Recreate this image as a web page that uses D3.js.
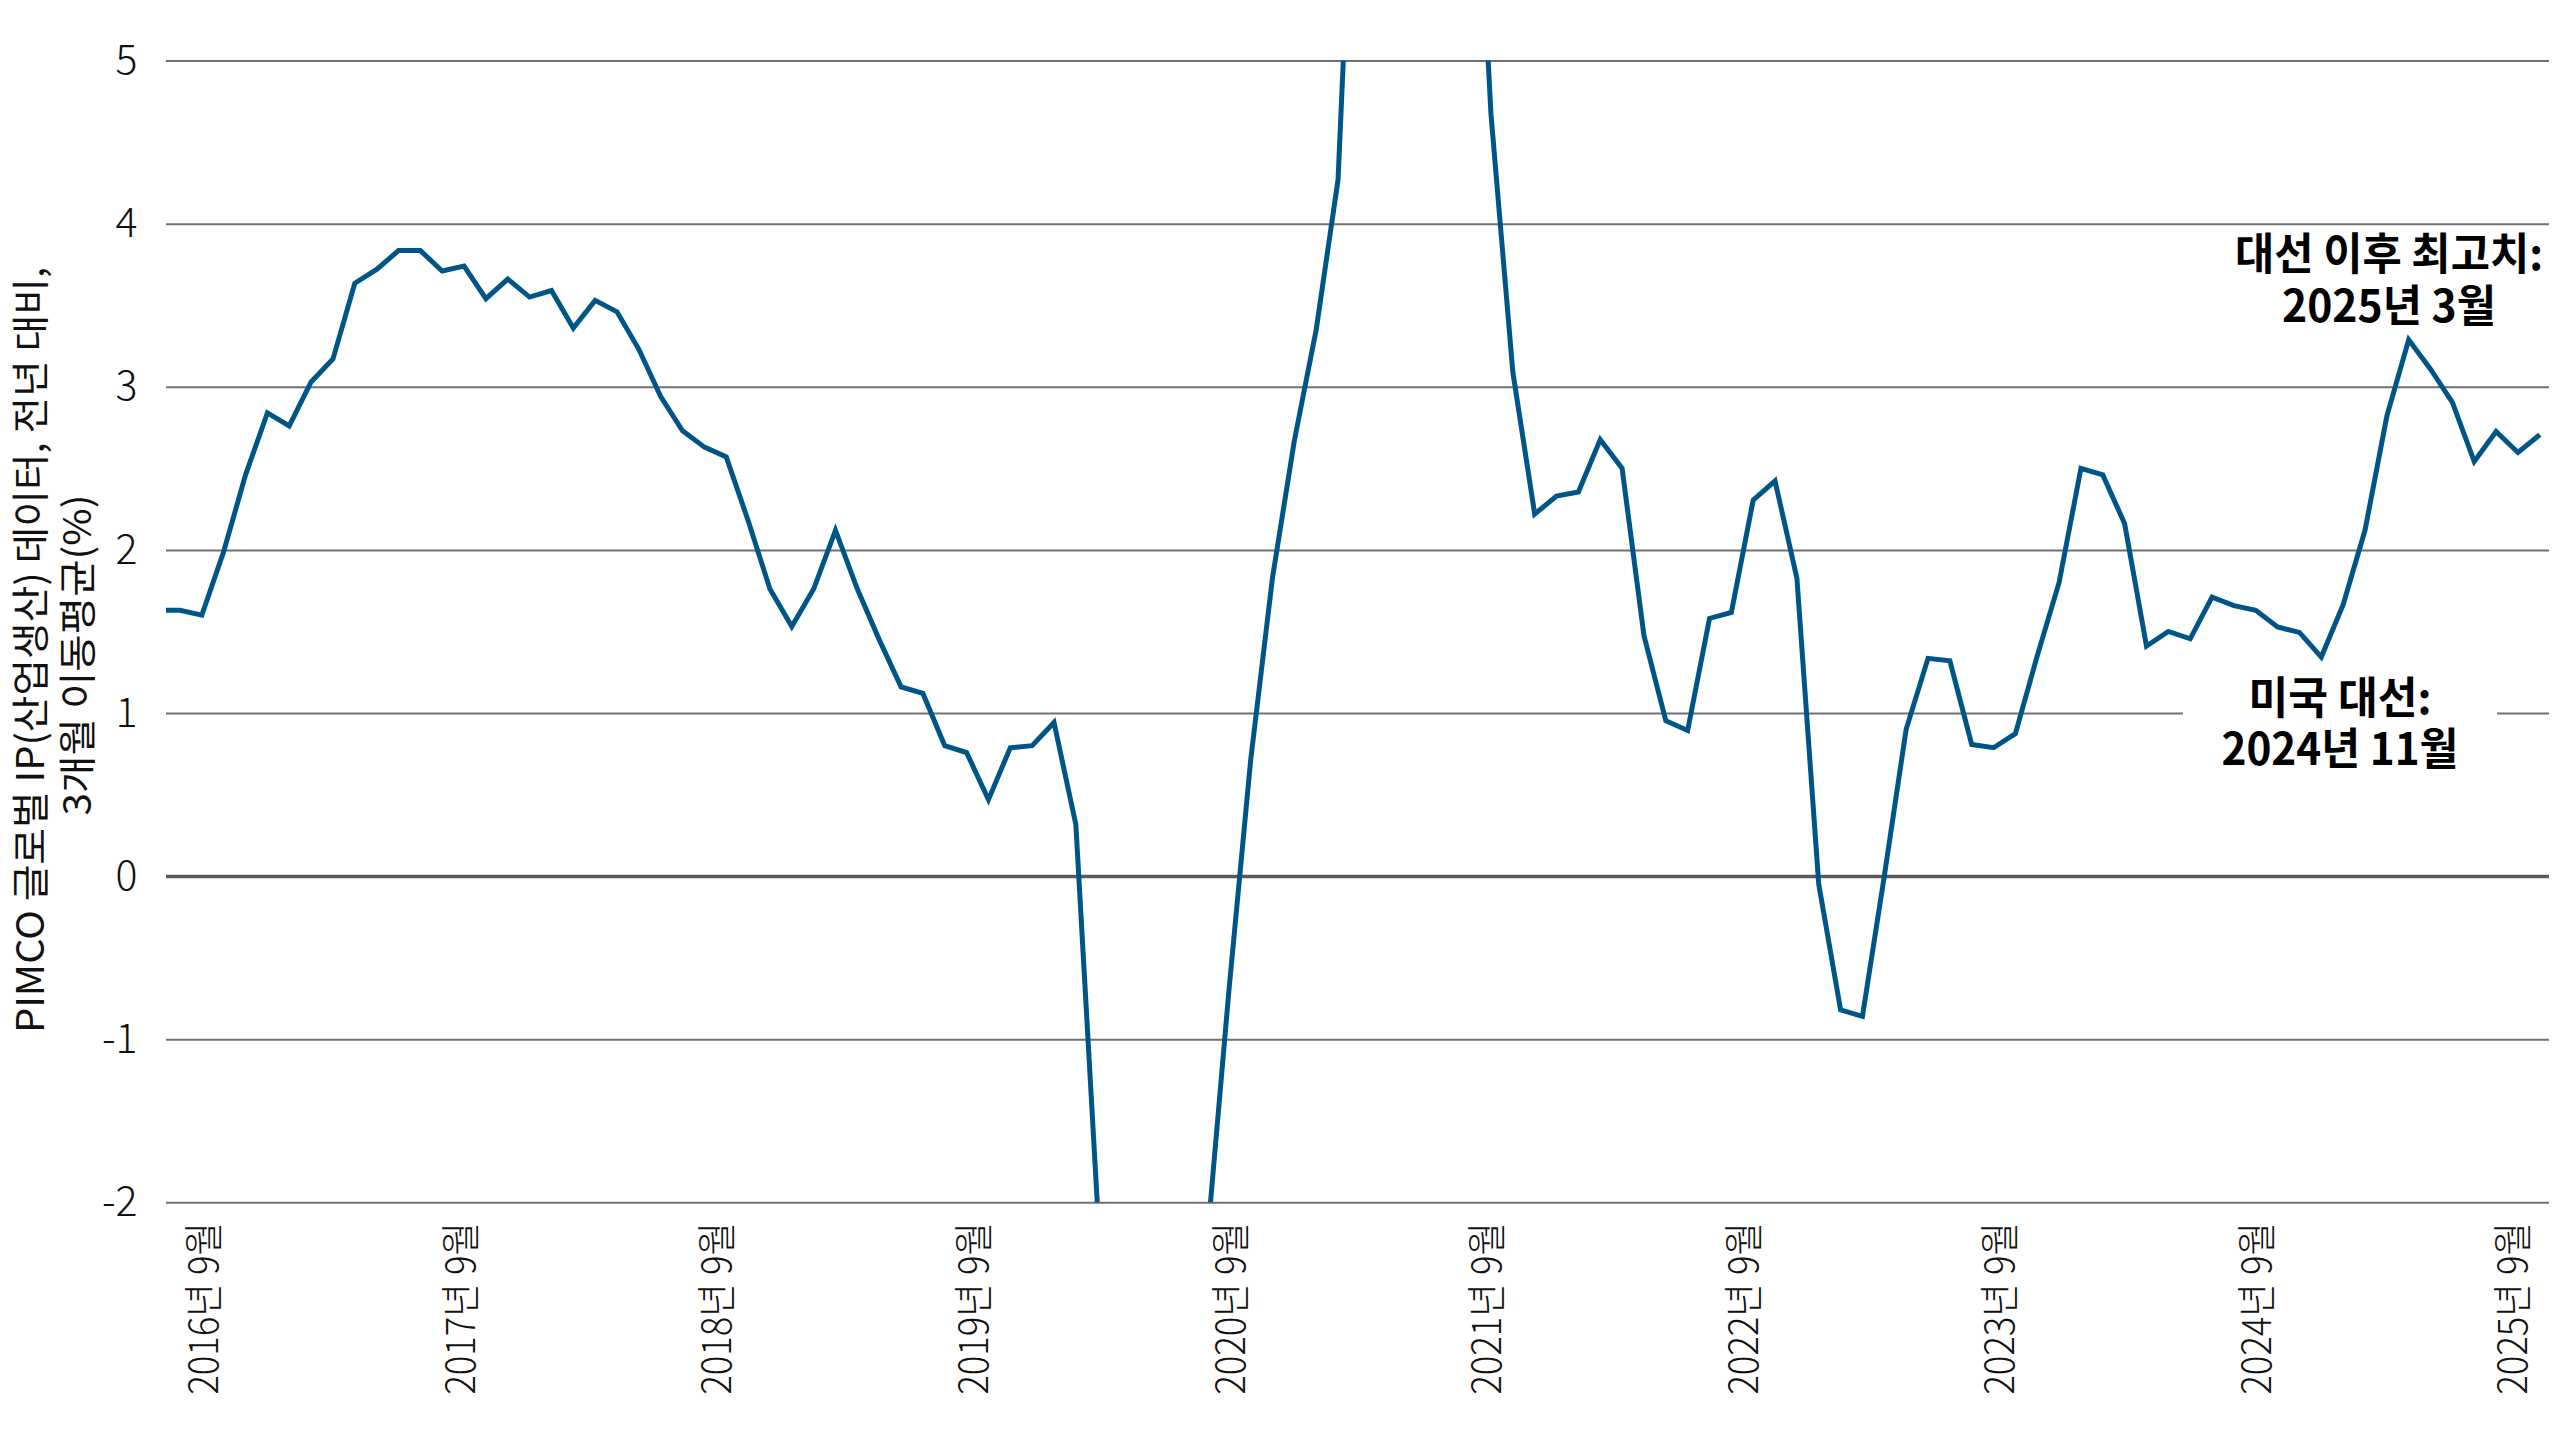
<!DOCTYPE html>
<html><head><meta charset="utf-8">
<script src="https://cdn.jsdelivr.net/npm/d3@7"></script>
<style>
html,body{margin:0;padding:0;background:#fff;}
svg{display:block;}
text{font-family:"Noto Sans CJK KR","Noto Sans",sans-serif;}
</style></head>
<body>
<svg id="chart" width="2560" height="1440"></svg>
<script>
// ---- data ----
const startMonth = "2016-08";
const endMonth = "2025-09";
const ipValues = [
  1.63, 1.63, 1.60, 1.99, 2.46, 2.84, 2.76, 3.03, 3.17, 3.635, 3.72, 3.835,
  3.835, 3.71, 3.74, 3.54, 3.66, 3.55, 3.59, 3.36, 3.53, 3.46, 3.23, 2.94,
  2.73, 2.63, 2.57, 2.18, 1.76, 1.53, 1.76, 2.12, 1.76, 1.45, 1.16, 1.12,
  0.80, 0.757, 0.469, 0.787, 0.80, 0.942, 0.316, -2.05, -6.5, -11, -10, -6,
  -2.25, -0.71, 0.71, 1.83, 2.67, 3.35, 4.27, 7.3, 10.5, 13.5, 12.5, 10,
  7.2, 4.67, 3.09, 2.22, 2.33, 2.355, 2.676, 2.50, 1.475, 0.953, 0.893, 1.58,
  1.616, 2.305, 2.423, 1.827, -0.05, -0.82, -0.86, 0.0, 0.90, 1.335, 1.32, 0.807,
  0.787, 0.873, 1.35, 1.80, 2.50, 2.46, 2.16, 1.41, 1.50, 1.455, 1.71, 1.658,
  1.63, 1.527, 1.494, 1.343, 1.664, 2.12, 2.82, 3.288, 3.108, 2.904, 2.542, 2.726,
  2.597, 2.706
];
const yTicks = [-2, -1, 0, 1, 2, 3, 4, 5];
const yTickLabels = ["-2", "-1", "0", "1", "2", "3", "4", "5"];
const xTickLabels = ["2016년 9월","2017년 9월","2018년 9월","2019년 9월","2020년 9월",
  "2021년 9월","2022년 9월","2023년 9월","2024년 9월","2025년 9월"];
const yTitleLines = ["PIMCO 글로벌 IP(산업생산) 데이터, 전년 대비,", "3개월 이동평균(%)"];
const noteHigh = ["대선 이후 최고치:", "2025년 3월"];
const noteElection = ["미국 대선:", "2024년 11월"];

// ---- layout ----
const L = 166, R = 2549, T = 60.6, B = 1202.3;
const parse = d3.timeParse("%Y-%m");
const months = d3.timeMonth.range(parse(startMonth), d3.timeMonth.offset(parse(endMonth), 1));
const data = months.map((m, i) => ({ m, i, v: ipValues[i] }));

const svg = d3.select("#chart");
const x = d3.scaleLinear().domain([0, data.length - 1]).range([158.15, 2539.8]);
const y = d3.scaleLinear().domain([-2, 5]).range([B, T]);
const xLab = d3.scalePoint().domain(xTickLabels).range([203.3, 2512.5]);

svg.append("defs").append("clipPath").attr("id", "plotclip")
  .append("rect").attr("x", L).attr("y", T).attr("width", R - L).attr("height", B - T);

// y axis + gridlines
const yAxis = svg.append("g").attr("transform", `translate(${L},0)`)
  .call(d3.axisLeft(y).tickValues(yTicks).tickSize(-(R - L)).tickPadding(28.5)
    .tickFormat((d, i) => yTickLabels[i]));
yAxis.select(".domain").remove();
yAxis.selectAll(".tick line")
  .attr("stroke", d => d === 0 ? "#5a5a5a" : "#707070")
  .attr("stroke-width", d => d === 0 ? 3.5 : 2);
yAxis.selectAll(".tick text")
  .attr("font-size", 41).attr("fill", "#111")
  .style("font-family", '"Noto Sans CJK KR", sans-serif').style("font-weight", 300);

// white box behind election note
svg.append("rect").attr("x", 2183).attr("y", 668).attr("width", 314).attr("height", 110).attr("fill", "#fff");

// line
svg.append("path").datum(data)
  .attr("clip-path", "url(#plotclip)")
  .attr("fill", "none").attr("stroke", "#005587").attr("stroke-width", 5)
  .attr("stroke-linejoin", "miter").attr("stroke-miterlimit", 3)
  .attr("d", d3.line().x(d => x(d.i)).y(d => y(d.v)));

// x axis labels
const xAxis = svg.append("g").attr("transform", `translate(0,${B})`)
  .call(d3.axisBottom(xLab).tickSize(0));
xAxis.select(".domain").remove();
xAxis.selectAll(".tick text")
  .attr("x", 0).attr("y", 0).attr("dy", "0.36em")
  .attr("transform", "translate(0,19.5) rotate(-90)")
  .attr("text-anchor", "end")
  .attr("font-size", 40).attr("fill", "#111")
  .attr("textLength", 173).attr("lengthAdjust", "spacingAndGlyphs")
  .style("font-family", '"Noto Sans CJK KR", sans-serif').style("font-weight", 300);

// y title
const titleG = svg.append("g");
[[44, 650, 766], [91, 655, 321]].forEach((p, k) => {
  titleG.append("text")
    .attr("transform", `translate(${p[0]},${p[1]}) rotate(-90)`)
    .attr("text-anchor", "middle").attr("font-size", 38).attr("fill", "#111")
    .attr("textLength", p[2]).attr("lengthAdjust", "spacingAndGlyphs")
    .text(yTitleLines[k]);
});

// annotations
function note(lines, cx, baselines, lengths) {
  lines.forEach((t, k) => {
    svg.append("text").attr("x", cx).attr("y", baselines[k])
      .attr("text-anchor", "middle").attr("font-size", 44).attr("font-weight", 700)
      .attr("fill", "#000")
      .attr("textLength", lengths[k]).attr("lengthAdjust", "spacingAndGlyphs")
      .text(t);
  });
}
note(noteHigh, 2389, [270, 322], [308, 214]);
note(noteElection, 2340, [714, 765], [183, 237]);
</script>
</body></html>
